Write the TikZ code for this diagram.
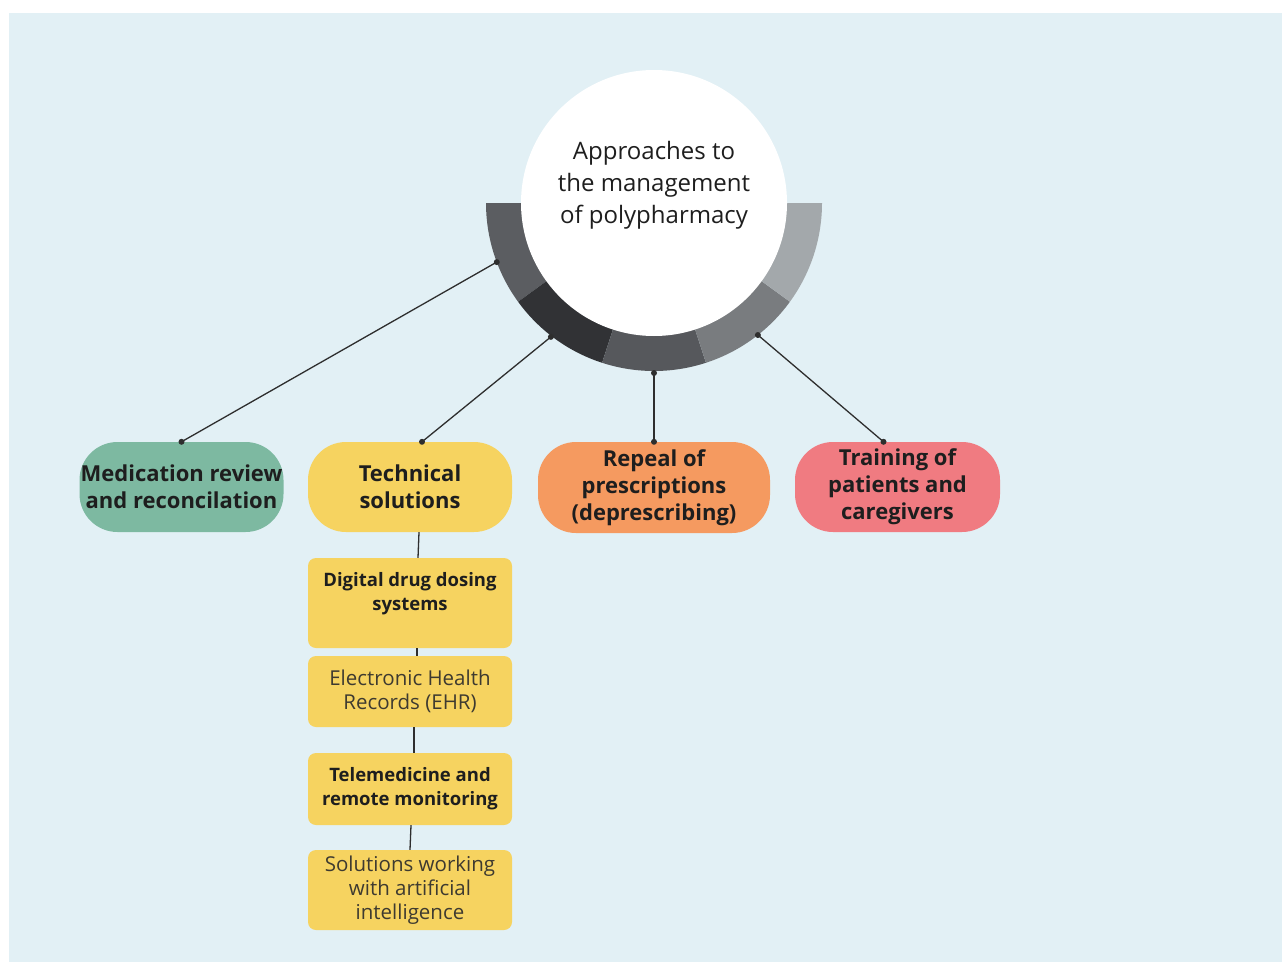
\documentclass[tikz,border=0pt]{standalone}
\usepackage{fontspec}
\setmainfont{Open Sans}
\usetikzlibrary{calc}
\definecolor{bg}{HTML}{E2F0F5}
\definecolor{txt}{HTML}{1E1E1E}
\definecolor{greytxt}{HTML}{3E3A30}
\definecolor{cgreen}{HTML}{7DB9A1}
\definecolor{cyellow}{HTML}{F6D360}
\definecolor{corange}{HTML}{F59A60}
\definecolor{cpink}{HTML}{F07B81}
\definecolor{segA}{HTML}{5B5D61}
\definecolor{segB}{HTML}{313235}
\definecolor{segC}{HTML}{56585C}
\definecolor{segD}{HTML}{797C7F}
\definecolor{segE}{HTML}{A3A8AB}
\definecolor{linec}{HTML}{2E2E2E}
\tikzset{
  mainbox/.style={rectangle, rounded corners=38, minimum width=204, minimum height=90,
    align=center, inner sep=0, text=txt, font=\bfseries\fontsize{22}{27}\selectfont},
  subbox/.style={rectangle, rounded corners=8, fill=cyellow, minimum width=204,
    align=center, inner sep=0, text=txt, font=\fontsize{20.5}{24}\selectfont},
  subbold/.style={font=\bfseries\fontsize{18.5}{24}\selectfont},
  conn/.style={draw=linec, line width=1.3},
  dot/.style={fill=linec},
}
\begin{document}
\begin{tikzpicture}[x=1pt,y=-1pt]
\useasboundingbox (0,0) rectangle (1282,963);
\fill[white] (0,0) rectangle (1282,963);
\fill[bg] (9,13) rectangle (1282,962);

% ring segments
\coordinate (c) at (654,203);
\fill[segA] (c) -- ++(144:168) arc[start angle=144, end angle=180, radius=168] -- cycle;
\fill[segB] (c) -- ++(108:168) arc[start angle=108, end angle=144, radius=168] -- cycle;
\fill[segC] (c) -- ++(72:168) arc[start angle=72, end angle=108, radius=168] -- cycle;
\fill[segD] (c) -- ++(36:168) arc[start angle=36, end angle=72, radius=168] -- cycle;
\fill[segE] (c) -- ++(0:168) arc[start angle=0, end angle=36, radius=168] -- cycle;

\node[circle, fill=white, minimum size=266, inner sep=0] (hub) at (c) {};
\node[align=center, text=txt, inner sep=0, font=\fontsize{24}{32}\selectfont] (hubt) at (654,185)
  {Approaches to\\the management\\of polypharmacy};

\path (c) ++(159.4:168) coordinate (p1);
\path (c) ++(127.6:169) coordinate (p2);
\path (c) ++(90:170) coordinate (p3);
\path (c) ++(51.8:168) coordinate (p4);

% main boxes
\node[mainbox, fill=cgreen] (med) at (181.5,487) {Medication review\\and reconcilation};
\node[mainbox, fill=cyellow] (tech) at (410,487) {Technical\\solutions};
\node[mainbox, fill=corange, minimum width=232, minimum height=91] (rep) at (654,487.5)
  {Repeal of\\prescriptions\\(deprescribing)};
\node[mainbox, fill=cpink, minimum width=205] (train) at (897.5,487)
  {Training of\\patients and\\caregivers};

% sub boxes
\node[subbox, subbold, minimum height=90] (dig) at (410,603)
  {Digital drug dosing\\systems\\~};
\node[subbox, minimum height=71, text=greytxt] (ehr) at (410,691.5)
  {Electronic Health\\Records (EHR)};
\node[subbox, subbold, minimum height=72] (tele) at (410,789)
  {Telemedicine and\\remote monitoring};
\node[subbox, minimum height=80, text=greytxt] (sol) at (410,890)
  {Solutions working\\with artificial\\intelligence};

% connectors
\draw[conn] (p1) -- (med.north);
\draw[conn] (p2) -- ([xshift=12]tech.north);
\draw[conn] (p3) -- (rep.north);
\draw[conn] (p4) -- ([xshift=-14]train.north);
\foreach \p in {p1,p2,p3,p4} \fill[dot] (\p) circle (3);
\fill[dot] (med.north) circle (3);
\fill[dot] ([xshift=12]tech.north) circle (3);
\fill[dot] (rep.north) circle (3);
\fill[dot] ([xshift=-14]train.north) circle (3);

\draw[conn] ([xshift=9]tech.south) -- ([xshift=8]dig.north);
\draw[conn] ([xshift=7]dig.south) -- ([xshift=7]ehr.north);
\draw[conn] ([xshift=4]ehr.south) -- ([xshift=4]tele.north);
\draw[conn] ([xshift=1]tele.south) -- ([xshift=0]sol.north);
\end{tikzpicture}
\end{document}
